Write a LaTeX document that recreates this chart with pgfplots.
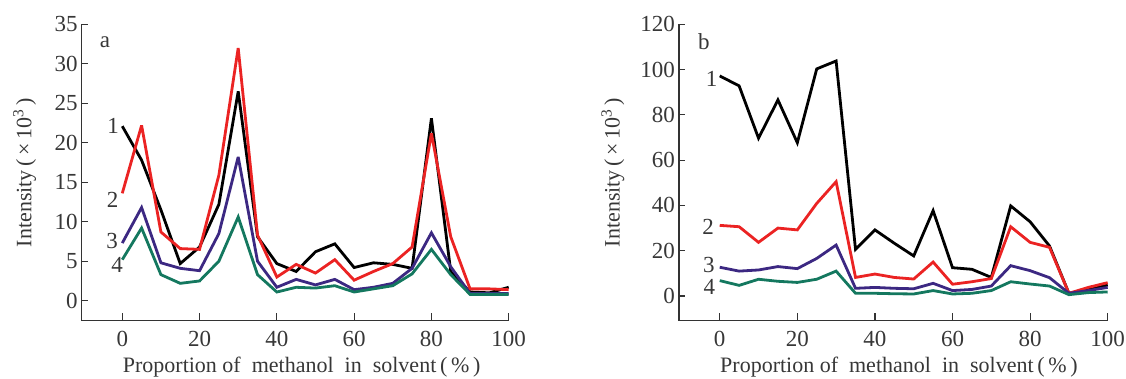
\documentclass[border=0pt]{standalone}
\usepackage{pgfplots}
\pgfplotsset{compat=1.18}
\usepackage{fontspec}
\setmainfont{Liberation Serif}
\definecolor{myred}{RGB}{235,35,35}
\definecolor{mypurple}{RGB}{60,40,130}
\definecolor{mygreen}{RGB}{20,120,95}
\definecolor{txt}{RGB}{55,55,55}
\newcommand{\lf}{\fontsize{11.5}{13}\selectfont}
\pgfplotsset{
  panel/.style={
    scale only axis,
    axis lines*=left,
    tick align=inside,
    xmin=-10.5, xmax=100,
    xtick={0,20,...,100},
    axis line style={line width=0.6pt, black!80},
    every tick/.style={line width=0.6pt, black!80},
    major tick length=3pt,
    xtick style={/pgfplots/major tick length=4pt},
    /pgf/number format/assume math mode=true,
    tick label style={font=\lf, text=txt},
    xticklabel style={yshift=-1.5pt},
    yticklabel style={xshift=1.5pt},
    label style={font=\fontsize{11}{13}\selectfont, text=txt},
    xlabel={Proportion of\ \ methanol\ \ in\ \ solvent\,(\,\%\,)},
    ylabel={Intensity\,(\,×\,10\textsuperscript{3}\,)},
    every axis plot/.append style={line width=1.4pt, line join=miter, miter limit=4},
    clip=false,
  }
}
\begin{document}
\begin{tikzpicture}
\begin{axis}[panel,
  at={(0,0)}, anchor=south west,
  width=213.5pt, height=148.2pt,
  ymin=-2.53, ymax=35, ytick={0,5,...,35},
  xlabel style={at={(axis description cs:0.515,-0.155)}, anchor=center},
  ylabel style={at={(axis description cs:-0.1335,0.5)}, anchor=center},
]
\addplot[black] coordinates {(0,22.1)(5,17.8)(10,11.5)(15,4.7)(20,6.8)(25,12.2)(30,26.5)(35,8.1)(40,4.7)(45,3.7)(50,6.2)(55,7.2)(60,4.2)(65,4.8)(70,4.6)(75,4.1)(80,23.1)(85,3.7)(90,1.1)(95,1.0)(100,1.7)};
\addplot[myred] coordinates {(0,13.6)(5,22.2)(10,8.7)(15,6.6)(20,6.5)(25,15.9)(30,32.0)(35,8.3)(40,3.0)(45,4.6)(50,3.5)(55,5.2)(60,2.6)(65,3.7)(70,4.7)(75,6.8)(80,21.2)(85,8.1)(90,1.5)(95,1.5)(100,1.4)};
\addplot[mypurple] coordinates {(0,7.3)(5,11.8)(10,4.8)(15,4.1)(20,3.8)(25,8.5)(30,18.2)(35,5.0)(40,1.7)(45,2.7)(50,2.0)(55,2.7)(60,1.4)(65,1.7)(70,2.2)(75,4.1)(80,8.6)(85,4.3)(90,0.9)(95,0.9)(100,0.9)};
\addplot[mygreen] coordinates {(0,5.2)(5,9.2)(10,3.3)(15,2.2)(20,2.5)(25,5.0)(30,10.6)(35,3.3)(40,1.1)(45,1.7)(50,1.6)(55,1.9)(60,1.1)(65,1.5)(70,1.9)(75,3.4)(80,6.5)(85,3.3)(90,0.8)(95,0.8)(100,0.8)};
\node[text=txt, font=\lf] at (axis cs:-4.5,32.7) {a};
\node[text=txt, font=\lf] at (axis cs:-2.4,22.1) {1};
\node[text=txt, font=\lf] at (axis cs:-2.5,12.8) {2};
\node[text=txt, font=\lf, inner sep=0pt] at (axis cs:-2.6,7.6) {3};
\node[text=txt, font=\lf, inner sep=0pt] at (axis cs:-1.3,4.5) {4};
\end{axis}
\begin{axis}[panel,
  at={(298.65pt,0)}, anchor=south west,
  width=214.35pt, height=148.2pt,
  ymin=-10.9, ymax=120, ytick={0,20,...,120},
  xlabel style={at={(axis description cs:0.513,-0.155)}, anchor=center},
  ylabel style={at={(axis description cs:-0.154,0.5)}, anchor=center},
]
\addplot[black] coordinates {(0,97.2)(5,92.8)(10,69.7)(15,86.6)(20,67.7)(25,100.3)(30,103.8)(35,20.6)(40,29.2)(45,23.3)(50,17.7)(55,37.7)(60,12.5)(65,11.8)(70,8.2)(75,39.8)(80,32.8)(85,22.1)(90,1.2)(95,2.9)(100,4.9)};
\addplot[myred] coordinates {(0,31.2)(5,30.6)(10,23.7)(15,30.0)(20,29.2)(25,40.9)(30,50.5)(35,8.2)(40,9.7)(45,8.2)(50,7.5)(55,15.0)(60,5.2)(65,6.3)(70,7.7)(75,30.6)(80,23.7)(85,21.5)(90,1.2)(95,3.8)(100,5.9)};
\addplot[mypurple] coordinates {(0,12.7)(5,11.0)(10,11.5)(15,13.0)(20,12.1)(25,16.6)(30,22.5)(35,3.4)(40,3.8)(45,3.4)(50,3.2)(55,5.6)(60,2.4)(65,2.9)(70,4.4)(75,13.4)(80,11.2)(85,8.1)(90,1.2)(95,2.4)(100,3.8)};
\addplot[mygreen] coordinates {(0,6.8)(5,4.7)(10,7.4)(15,6.5)(20,6.0)(25,7.4)(30,11.0)(35,1.2)(40,1.2)(45,1.0)(50,0.9)(55,2.4)(60,0.9)(65,1.2)(70,2.4)(75,6.3)(80,5.3)(85,4.4)(90,0.6)(95,1.5)(100,1.8)};
\node[text=txt, font=\lf] at (axis cs:-4.1,112.3) {b};
\node[text=txt, font=\lf] at (axis cs:-2.1,96.1) {1};
\node[text=txt, font=\lf] at (axis cs:-3.0,30.6) {2};
\node[text=txt, font=\lf, inner sep=0pt] at (axis cs:-2.8,13.7) {3};
\node[text=txt, font=\lf, inner sep=0pt] at (axis cs:-2.7,3.8) {4};
\end{axis}
\pgfresetboundingbox
\path[use as bounding box] (-40.85pt,-29.15pt) rectangle (522.15pt,160.35pt);
\end{tikzpicture}
\end{document}
